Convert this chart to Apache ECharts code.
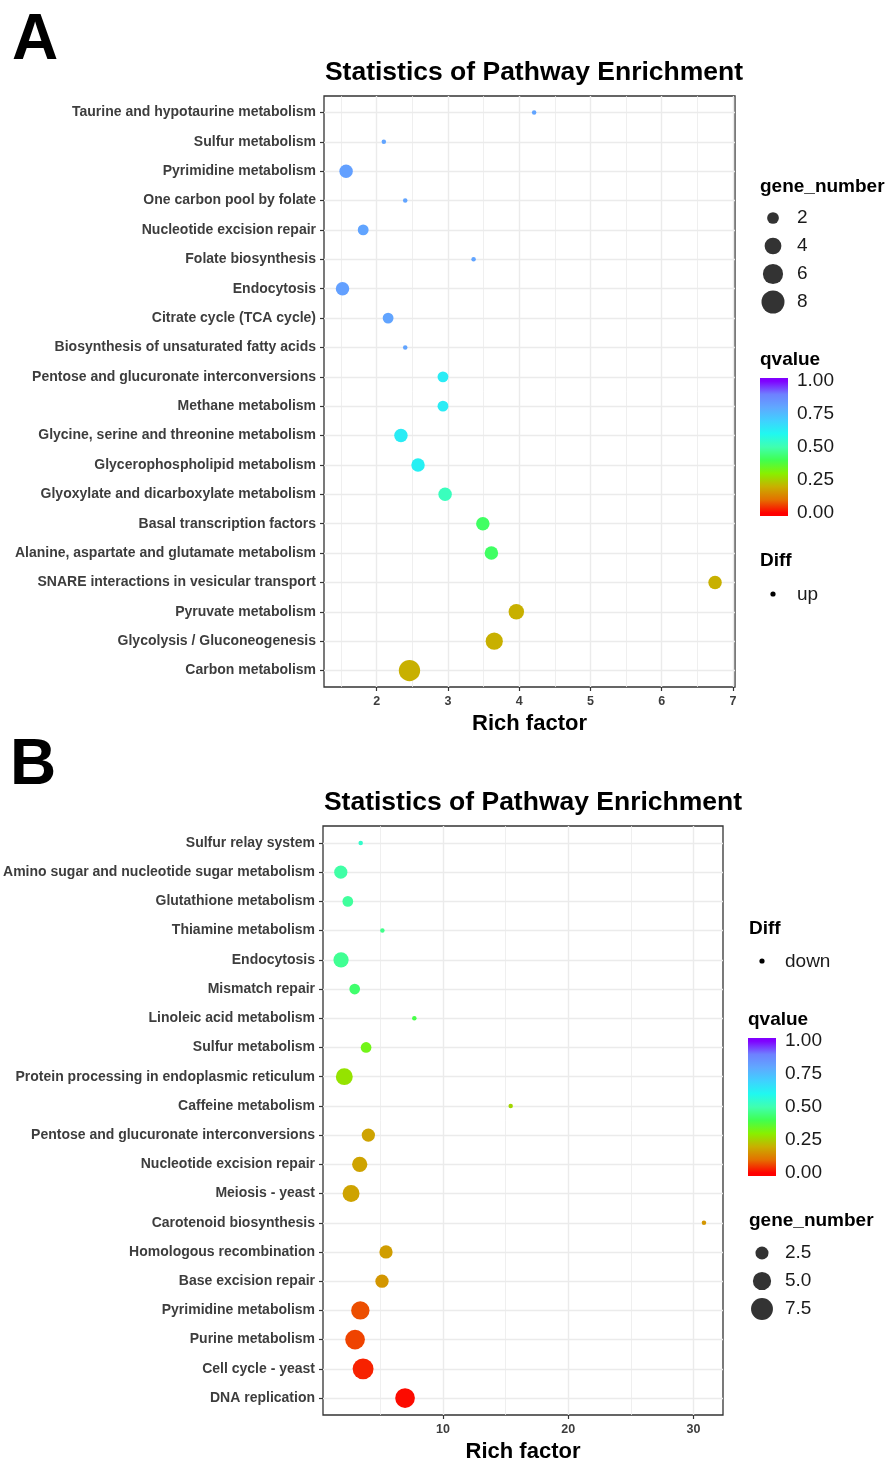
<!DOCTYPE html>
<html><head><meta charset="utf-8">
<script src="https://cdn.jsdelivr.net/npm/echarts@6/dist/echarts.min.js"></script>
<style>html,body{margin:0;padding:0;background:#fff}#c{width:891px;height:1464px}</style>
</head><body><div id="c"></div>
<script>
// ---------- Panel A data (top to bottom) ----------
const categoriesA = ["Taurine and hypotaurine metabolism","Sulfur metabolism","Pyrimidine metabolism","One carbon pool by folate","Nucleotide excision repair","Folate biosynthesis","Endocytosis","Citrate cycle (TCA cycle)","Biosynthesis of unsaturated fatty acids","Pentose and glucuronate interconversions","Methane metabolism","Glycine, serine and threonine metabolism","Glycerophospholipid metabolism","Glyoxylate and dicarboxylate metabolism","Basal transcription factors","Alanine, aspartate and glutamate metabolism","SNARE interactions in vesicular transport","Pyruvate metabolism","Glycolysis / Gluconeogenesis","Carbon metabolism"];
const richA  = [4.21,2.10,1.57,2.40,1.81,3.36,1.52,2.16,2.40,2.93,2.93,2.34,2.58,2.96,3.49,3.61,6.75,3.96,3.65,2.46];
const genesA = [1,1,3,1,2,1,3,2,1,2,2,3,3,3,3,3,3,4,5,8];
const qvalA  = [0.81,0.81,0.82,0.81,0.81,0.81,0.82,0.81,0.81,0.63,0.63,0.63,0.62,0.52,0.42,0.42,0.20,0.20,0.20,0.20];
const xTicksA = [2,3,4,5,6,7];
const xMinorA = [1.5,2.5,3.5,4.5,5.5,6.5];
const sizeBreaksA = [2,4,6,8];
const diffA = "up";

// ---------- Panel B data (top to bottom) ----------
const categoriesB = ["Sulfur relay system","Amino sugar and nucleotide sugar metabolism","Glutathione metabolism","Thiamine metabolism","Endocytosis","Mismatch repair","Linoleic acid metabolism","Sulfur metabolism","Protein processing in endoplasmic reticulum","Caffeine metabolism","Pentose and glucuronate interconversions","Nucleotide excision repair","Meiosis - yeast","Carotenoid biosynthesis","Homologous recombination","Base excision repair","Pyrimidine metabolism","Purine metabolism","Cell cycle - yeast","DNA replication"];
const richB  = [3.43,1.84,2.40,5.16,1.86,2.95,7.71,3.86,2.12,15.40,4.04,3.35,2.66,30.83,5.45,5.13,3.40,2.98,3.62,6.97];
const genesB = [1,3,2,1,4,2,1,2,5,1,3,4,5,1,3,3,6,7,8,7];
const qvalB  = [0.54,0.49,0.48,0.46,0.47,0.43,0.39,0.33,0.28,0.26,0.18,0.18,0.18,0.16,0.17,0.16,0.07,0.06,0.03,0.01];
const xTicksB = [10,20,30];
const xMinorB = [5,15,25];
const sizeBreaksB = [2.5,5.0,7.5];
const diffB = "down";

const qTicks = [0,0.25,0.5,0.75,1];
const title = "Statistics of Pathway Enrichment";

// ---------- styling ----------
const FONT = "'Liberation Sans', Arial, Helvetica, sans-serif";
const RAMP = ['#ff0000','#e47000','#c8b000','#88f000','#40ff50','#40ffb0','#20f8f0','#40d0ff','#60a8ff','#6e80ff','#8000ff'];
const GRIDC = '#ebebeb';
const AXTXT = '#3d3d3d';

function sizer(genes, a, b){
  const lo = Math.min(...genes), hi = Math.max(...genes);
  return g => a + b*Math.sqrt(Math.max(0,(g-lo))/(hi-lo));
}
const sizeA = sizer(genesA, 4.5, 16.8), sizeB = sizer(genesB, 4.5, 16.4);

const chart = echarts.init(document.getElementById('c'));

function mainAxes(gi, cats, xmin, xmax, xticks, ypad){
  const idx = cats.map((c,i)=>i);
  return {
    x: {gridIndex:gi, type:'value', min:xmin, max:xmax, position:'bottom',
      axisLine:{show:false, onZero:false}, splitLine:{show:false},
      axisTick:{show:true, customValues:xticks, length:4, lineStyle:{color:'#333',width:1.2}},
      axisLabel:{customValues:xticks, color:AXTXT, fontWeight:'bold', fontSize:12.5, margin:8, fontFamily:FONT},
      name:'Rich factor', nameLocation:'middle', nameGap:26,
      nameTextStyle:{fontSize:22, fontWeight:'bold', color:'#000', fontFamily:FONT}},
    y: {gridIndex:gi, type:'value', inverse:true, min:-ypad, max:cats.length-1+ypad, position:'left',
      axisLine:{show:false, onZero:false}, splitLine:{show:false},
      axisTick:{show:true, customValues:idx, length:4, lineStyle:{color:'#333',width:1.2}},
      axisLabel:{customValues:idx, formatter:v=>cats[Math.round(v)], color:AXTXT, fontWeight:'bold', fontSize:14, margin:8, fontFamily:FONT}}
  };
}
const axA = mainAxes(0, categoriesA, 1.26, 7.03, xTicksA, 0.56);
const axB = mainAxes(1, categoriesB, 0.42, 32.35, xTicksB, 0.58);

function gridLines(xi, yi, cats, major, minor){
  return {type:'scatter', xAxisIndex:xi, yAxisIndex:yi, data:[], silent:true, z:0,
    markLine:{silent:true, z:0, symbol:'none', animation:false, label:{show:false}, emphasis:{disabled:true},
      data: [
        ...minor.map(v=>({xAxis:v, lineStyle:{color:GRIDC, width:0.8, type:'solid'}})),
        ...major.map(v=>({xAxis:v, lineStyle:{color:GRIDC, width:1.4, type:'solid'}})),
        ...cats.map((c,i)=>({yAxis:i, lineStyle:{color:GRIDC, width:1.4, type:'solid'}}))
      ]}};
}

// colour bar gradient
const TOP = 1.0227;
function barGradient(){
  const stops = [{offset:0, color:RAMP[RAMP.length-1]}];
  RAMP.forEach((c,i)=>{ const v=i/(RAMP.length-1); stops.push({offset:(TOP-v)/TOP, color:c}); });
  stops.sort((a,b)=>a.offset-b.offset);
  return new echarts.graphic.LinearGradient(0,0,0,1,stops);
}

function legendAxes(gi, n, breaks, margin){
  const idx = breaks.map((b,i)=>i);
  return {
    x:{gridIndex:gi, type:'value', min:-1, max:1, show:false},
    y:{gridIndex:gi, type:'value', inverse:true, min:-0.5, max:n-0.5, position:'right',
      axisLine:{show:false, onZero:false}, axisTick:{show:false}, splitLine:{show:false},
      axisLabel:{customValues:idx, formatter:v=>breaks[Math.round(v)].toFixed(breaks[0]%1?1:0), color:'#1a1a1a', fontSize:19, margin:margin, fontFamily:FONT}}
  };
}
function barAxes(gi){
  const common = {gridIndex:gi, type:'value', min:-(TOP-1), max:TOP, splitLine:{show:false}, axisLine:{show:false, onZero:false}};
  return {
    x:{gridIndex:gi, type:'category', data:['q'], show:false},
    yR:Object.assign({}, common, {position:'right',
      axisTick:{show:true, inside:true, customValues:qTicks, length:5, lineStyle:{color:'#fff',width:1}},
      axisLabel:{customValues:qTicks, formatter:v=>v.toFixed(2), color:'#1a1a1a', fontSize:19, margin:9, fontFamily:FONT}}),
    yL:Object.assign({}, common, {position:'left',
      axisTick:{show:true, inside:true, customValues:qTicks, length:5, lineStyle:{color:'#fff',width:1}},
      axisLabel:{show:false}})
  };
}

const lgA = legendAxes(2, sizeBreaksA.length, sizeBreaksA, 14);
const lgB = legendAxes(3, sizeBreaksB.length, sizeBreaksB, 13);
const cbA = barAxes(4), cbB = barAxes(5);

const option = {
  animation:false,
  backgroundColor:'#fff',
  textStyle:{fontFamily:FONT},
  grid:[
    {left:324, top:96, width:411, height:591, show:true, borderColor:'#333', borderWidth:1.3, backgroundColor:'transparent'},
    {left:323, top:826, width:400, height:590, show:true, borderColor:'#333', borderWidth:1.3, backgroundColor:'transparent'},
    {left:763, top:204, width:20, height:112},
    {left:752, top:1239, width:20, height:84},
    {left:760, top:378, width:28, height:138},
    {left:748, top:1038, width:28, height:138}
  ],
  xAxis:[axA.x, axB.x, lgA.x, lgB.x, cbA.x, cbB.x],
  yAxis:[axA.y, axB.y, lgA.y, lgB.y, cbA.yR, cbA.yL, cbB.yR, cbB.yL],
  visualMap:[{type:'continuous', show:false, min:0, max:1, dimension:3, seriesIndex:[2,3], inRange:{color:RAMP}}],
  series:[
    gridLines(0,0,categoriesA,xTicksA,xMinorA),
    gridLines(1,1,categoriesB,xTicksB,xMinorB),
    {type:'scatter', xAxisIndex:0, yAxisIndex:0, z:5,
      data: richA.map((x,i)=>[x,i,genesA[i],qvalA[i]]),
      symbolSize: v=>sizeA(v[2]), itemStyle:{opacity:1}},
    {type:'scatter', xAxisIndex:1, yAxisIndex:1, z:5,
      data: richB.map((x,i)=>[x,i,genesB[i],qvalB[i]]),
      symbolSize: v=>sizeB(v[2]), itemStyle:{opacity:1}},
    {type:'scatter', xAxisIndex:2, yAxisIndex:2, data: sizeBreaksA.map((b,i)=>[0,i,b]),
      symbolSize: v=>sizeA(v[2])*1.08, itemStyle:{color:'#000'}, silent:true},
    {type:'scatter', xAxisIndex:3, yAxisIndex:3, data: sizeBreaksB.map((b,i)=>[0,i,b]),
      symbolSize: v=>sizeB(v[2])*1.08, itemStyle:{color:'#000'}, silent:true},
    {type:'bar', xAxisIndex:4, yAxisIndex:4, data:[TOP], barWidth:'100%', barGap:'-100%', itemStyle:{color:barGradient()}, silent:true},
    {type:'bar', xAxisIndex:4, yAxisIndex:4, data:[-(TOP-1)], barWidth:'100%', barGap:'-100%', itemStyle:{color:RAMP[0]}, silent:true},
    {type:'bar', xAxisIndex:5, yAxisIndex:6, data:[TOP], barWidth:'100%', barGap:'-100%', itemStyle:{color:barGradient()}, silent:true},
    {type:'bar', xAxisIndex:5, yAxisIndex:6, data:[-(TOP-1)], barWidth:'100%', barGap:'-100%', itemStyle:{color:RAMP[0]}, silent:true}
  ],
  graphic:[
    {type:'text', left:12, top:9, style:{text:'A', font:"bold 64px "+FONT, fill:'#000'}},
    {type:'text', left:10, top:734, style:{text:'B', font:"bold 64px "+FONT, fill:'#000'}},
    {type:'text', x:534, y:73, style:{text:title, font:"bold 26.5px "+FONT, fill:'#000', align:'center', verticalAlign:'middle'}},
    {type:'text', x:533, y:803, style:{text:title, font:"bold 26.5px "+FONT, fill:'#000', align:'center', verticalAlign:'middle'}},
    // legend titles panel A
    {type:'text', x:760, y:187, style:{text:'gene_number', font:"bold 19px "+FONT, fill:'#000', verticalAlign:'middle'}},
    {type:'text', x:760, y:360, style:{text:'qvalue', font:"bold 19px "+FONT, fill:'#000', verticalAlign:'middle'}},
    {type:'text', x:760, y:561, style:{text:'Diff', font:"bold 19px "+FONT, fill:'#000', verticalAlign:'middle'}},
    {type:'circle', shape:{cx:773, cy:594, r:2.6}, style:{fill:'#000'}},
    {type:'text', x:797, y:595, style:{text:diffA, font:"19px "+FONT, fill:'#1a1a1a', verticalAlign:'middle'}},
    // legend titles panel B
    {type:'text', x:749, y:929, style:{text:'Diff', font:"bold 19px "+FONT, fill:'#000', verticalAlign:'middle'}},
    {type:'circle', shape:{cx:762, cy:961, r:2.6}, style:{fill:'#000'}},
    {type:'text', x:785, y:962, style:{text:diffB, font:"19px "+FONT, fill:'#1a1a1a', verticalAlign:'middle'}},
    {type:'text', x:748, y:1020, style:{text:'qvalue', font:"bold 19px "+FONT, fill:'#000', verticalAlign:'middle'}},
    {type:'text', x:749, y:1221, style:{text:'gene_number', font:"bold 19px "+FONT, fill:'#000', verticalAlign:'middle'}}
  ]
};
chart.setOption(option);
</script></body></html>
